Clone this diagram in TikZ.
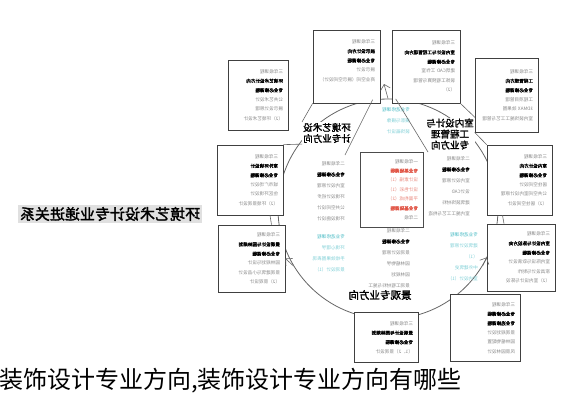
\documentclass[tikz,border=0pt]{standalone}
\usepackage{fontspec}
\newfontfamily\cjk{Noto Sans CJK SC}
\newfontfamily\cjkbold{Noto Sans CJK SC}[FakeBold=2]
\usetikzlibrary{arrows.meta,positioning}
\definecolor{tealtxt}{RGB}{70,185,195}
\definecolor{redtxt}{RGB}{225,85,70}
\definecolor{greytxt}{RGB}{135,135,135}
\newcommand{\hd}[1]{{\cjkbold\color{black}#1}}
\newcommand{\rd}[1]{{\cjkbold\color{redtxt}#1}}
\tikzset{
	course/.style 2 args={draw=black!75, line width=0.7pt, fill=white,
		align=left, text width=#1, minimum height=#2, inner xsep=5pt,
		font=\cjk\fontsize{4.6}{9.4}\selectfont, text=greytxt},
	notes/.style={anchor=west, align=left, inner sep=0pt,
		font=\cjk\fontsize{4.6}{11}\selectfont, text=greytxt},
	branch/.style={align=center, fill=white, inner sep=1pt,
		font=\cjkbold\fontsize{9.5}{11}\selectfont},
	link/.style={draw=black!60, line width=0.6pt},
}
\begin{document}
\begin{tikzpicture}[x=1pt, y=-1pt, >={Straight Barb[length=5pt,width=10pt]}]
\useasboundingbox (0,0) rectangle (565,400);

% whole chart is printed mirror-wise
\begin{scope}[shift={(565,0)}, xscale=-1, transform shape]
\node[draw=black!60, line width=0.8pt, circle, minimum size=220pt, inner sep=0pt] (ring) at (177,209) {};

% first year (centre)
\node[course={53pt}{75pt}, draw=black!70] (year1) at (173.5,189.5) {
	一年级课程\\ \rd{专业基础课程}\\ {\color{redtxt!70}设计素描（1）}\\
	{\color{redtxt!70}设计色彩（1）}\\ {\color{redtxt!70}平面构成（2）}\\
	\rd{专业基础课程}\\ 二年级};

% second year, inside the ring
\node[notes] (y2left) at (220,191) {二年级课程\\ \hd{专业必修课程}\\ 室内设计原理\\ 环境设计初步\\ 公共空间设计\\ 环境设施设计};
\node[notes] (y2right) at (95,186) {二年级课程\\ \hd{专业必修课程}\\ 室内设计原理\\ 设计CAD\\ 建筑装饰材料\\ 室内施工工艺与构造};
\node[notes] (y2low) at (155,258) {二年级课程\\ \hd{专业必修课程}\\ 景观设计原理\\ 园林植物学\\ 园林规划\\ 景观工程材料与施工};
\node[notes, text=tealtxt!70] (opttop) at (155,121) {{\color{tealtxt}专业选修课程}\\ 摄影与摄像\\ 装饰画设计};
\node[notes, text=tealtxt!70] (optleft) at (220,253) {{\color{tealtxt}专业选修课程}\\ 环境心理学\\ 手绘效果图表现\\ 景观设计（1）};
\node[notes, text=tealtxt!70] (optright) at (87,257) {{\color{tealtxt}专业选修课程}\\ 建筑设计原理\\ （1）\\ 中外建筑史\\ 室内设计（1）};

% directions
\node[branch] (envdir) at (238,133) {环境艺术设\\计专业方向};
\node[branch] (indoor) at (115,134) {室内设计与\\工程管理\\专业方向};
\node[branch, font=\cjkbold\fontsize{10.5}{12}\selectfont] (landdir) at (185,295) {景观专业方向};

% third year boxes
\node[course={57pt}{73pt}] (show) at (218.5,66.5) {三年级课程\\ \hd{展示设计方向}\\ \hd{专业必修课程}\\ 展示设计\\ 商业空间（展示空间设计）\\ \strut};
\node[course={58pt}{73pt}] (manage) at (139,66.5) {三年级课程\\ \hd{室内设计与工程管理方向}\\ \hd{专业必修课程}\\ 建筑CAD 工作室\\ 装饰工程预算与管理\\ （2）};
\node[course={53pt}{74pt}] (project) at (58.5,95) {三年级课程\\ \hd{工程管理方向}\\ \hd{专业必修课程}\\ 工程项目管理\\ 3DMAX 效果图\\ 室内装饰施工工艺与管理};
\node[course={55pt}{70pt}] (interior) at (45.5,180) {三年级课程\\ \hd{室内设计方向}\\ \hd{专业必修课程}\\ 居住空间设计\\ 公共空间室内设计原理\\ （2）居住空间设计};
\node[course={58pt}{67pt}] (decor) at (44,257.5) {三年级课程\\ \hd{室内设计与陈设方向}\\ \hd{专业必修课程}\\ 室内陈设与软装设计\\ 家具设计与制作\\ （2）室内设计与陈设};
\node[course={60pt}{67pt}] (garden) at (80,328) {三年级课程\\ \hd{专业必修课程}\\ \hd{专业选修课程}\\ 景观规划设计\\ 园林植物配置\\ 风景园林设计};
\node[course={54pt}{50pt}] (land) at (179,337.5) {三年级课程\\ \hd{景观设计与园林规划}\\ \hd{专业必修课程}\\ （1、2）景观设计};
\node[course={57pt}{67pt}] (planning) at (313.5,258.5) {三年级课程\\ \hd{景观设计与园林规划}\\ \hd{专业必修课程}\\ 园林规划与设计\\ 景观建筑与小品设计\\ （2）景观设计};
\node[course={56pt}{70pt}] (outdoor) at (315,180) {三年级课程\\ \hd{室外环境设计}\\ \hd{专业必修课程}\\ 城市广场设计\\ 住区环境设计\\ （2）环境景观设计};
\node[course={50pt}{70pt}] (public) at (307,95) {三年级课程\\ \hd{环境艺术设计方向}\\ \hd{专业必修课程}\\ 公共艺术设计\\ 展示设计原理\\ （2）环境艺术设计};

% title
\node[fill=black!12, inner sep=2pt, font=\cjkbold\fontsize{15}{16}\selectfont] (title) at (455,214) {环境艺术设计专业递进关系};

% connectors
\coordinate (topgap) at (181,84);
\coordinate (vleft) at (220,155);
\coordinate (vright) at (137,152);
\draw[link] (show.south east) -- (envdir.north east);
\draw[link] (envdir.south east) -- (outdoor.north west);
\draw[link] ([xshift=-20pt]outdoor.south) -- ([xshift=-20pt]planning.north);
\draw[link] (manage.south west) -- (indoor.north west);
\draw[link] (project.south east) -- (interior.north east);
\draw[link] ([xshift=17pt]interior.south) -- ([xshift=17pt]decor.north);
\draw[link] (ring.82) -- (vleft);
\draw[link] (ring.94) -- (vright);
\draw[link, ->] (ring.north) -- (topgap);
\draw[link, ->] (ring.329) -- (planning.west);
\draw[link, ->] (ring.211) -- (decor.east);
\end{scope}

% caption under the chart
\node[anchor=west, inner sep=0pt, font=\cjk\fontsize{24}{26}\selectfont] (caption) at (-1,381) {装饰设计专业方向,装饰设计专业方向有哪些};
\end{tikzpicture}
\end{document}
